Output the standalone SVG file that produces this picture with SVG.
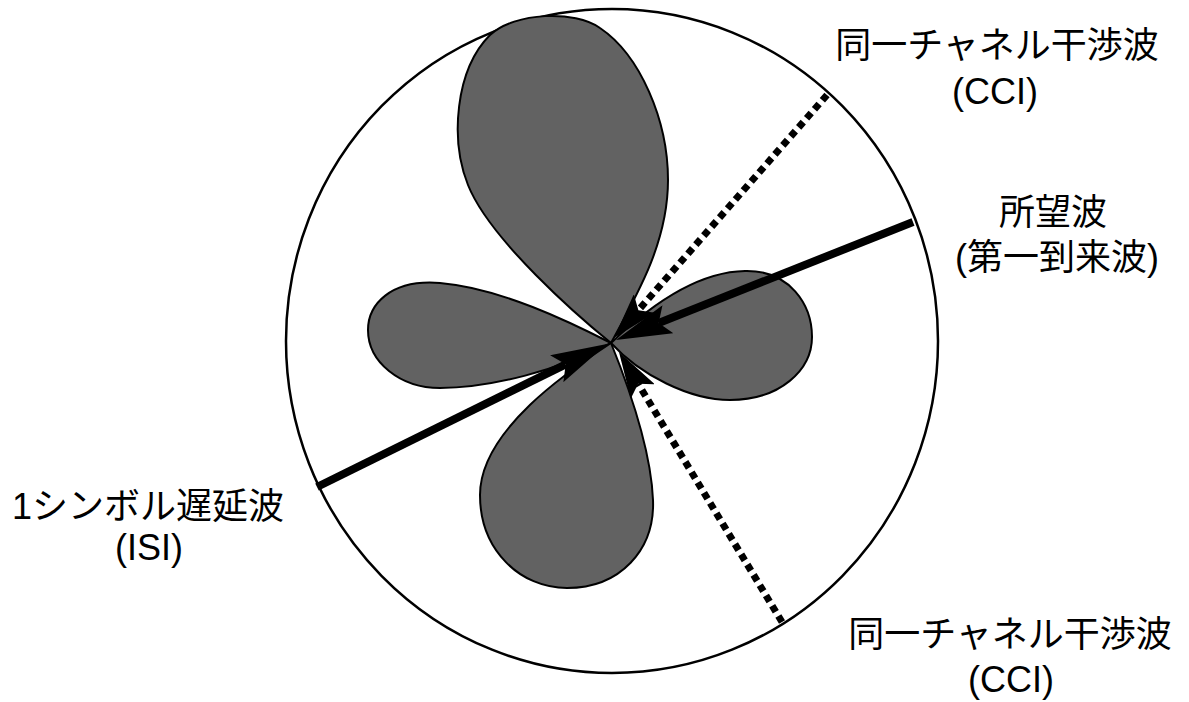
<svg xmlns="http://www.w3.org/2000/svg" width="1189" height="702" viewBox="0 0 1189 702">
<style>
.bg{fill:#ffffff}
.rim{fill:none;stroke:#000;stroke-width:2.5}
.lobe{fill:#626262;stroke:#000;stroke-width:2}
.solid{fill:none;stroke:#000;stroke-width:8}
.dot{fill:none;stroke:#000;stroke-width:7;stroke-dasharray:7 5}
.lbl{font-family:"Liberation Sans","Noto Sans CJK JP",sans-serif;font-size:36px;fill:#000;text-anchor:middle}
</style>
<defs>
<marker id="headL" viewBox="0 0 56 30" refX="10" refY="15" markerWidth="56" markerHeight="30" markerUnits="userSpaceOnUse" orient="auto">
<path d="M0,0 L56,15 L0,30 L10,15 Z" fill="#000" stroke="none"/>
</marker>
<marker id="headS" viewBox="0 0 46 28" refX="9" refY="14" markerWidth="46" markerHeight="28" markerUnits="userSpaceOnUse" orient="auto">
<path d="M0,0 L46,14 L0,28 L9,14 Z" fill="#000" stroke="none"/>
</marker>
</defs>
<rect class="bg" x="0" y="0" width="1189" height="702"/>
<g id="boundary">
<ellipse class="rim" cx="612" cy="341" rx="326" ry="332"/>
</g>
<g id="lobe-top">
<path class="lobe" d="M611,343 C580,318 490,240 468,185 C450,140 455,70 490,35 C515,12 575,10 600,28 C640,55 668,120 668,180 C668,240 640,290 611,343 Z"/>
</g>
<g id="lobe-left">
<path class="lobe" d="M611,343 C570,322 500,288 440,283 C390,279 368,305 368,330 C368,362 400,388 440,388 C490,388 560,370 611,343 Z"/>
</g>
<g id="lobe-right">
<path class="lobe" d="M611,343 C640,315 690,272 745,271 C790,270 812,305 812,337 C812,370 780,400 730,400 C690,400 640,375 611,343 Z"/>
</g>
<g id="lobe-bottom">
<path class="lobe" d="M611,343 C570,370 480,430 480,495 C480,550 520,588 567,588 C620,588 655,550 653,500 C651,450 630,390 611,343 Z"/>
</g>
<g id="connectors">
<line id="desired" class="solid" x1="913" y1="222" x2="658.7" y2="323" marker-end="url(#headL)"/>
<line id="isi" class="solid" x1="317" y1="487" x2="565.7" y2="364.3" marker-end="url(#headL)"/>
<line id="cci-upper" class="dot" x1="827" y1="95" x2="638.4" y2="310.2" marker-end="url(#headS)"/>
<line id="cci-lower" class="dot" x1="782" y1="622" x2="638.1" y2="383.7" marker-end="url(#headS)"/>
</g>
<g id="label-cci-upper">
<text class="lbl" x="997" y="58">同一チャネル干渉波</text>
<text class="lbl" x="995" y="104">(CCI)</text>
</g>
<g id="label-desired">
<text class="lbl" x="1053" y="225">所望波</text>
<text class="lbl" x="1057" y="270">(第一到来波)</text>
</g>
<g id="label-isi">
<text class="lbl" x="148" y="519">1シンボル遅延波</text>
<text class="lbl" x="149" y="560">(ISI)</text>
</g>
<g id="label-cci-lower">
<text class="lbl" x="1010" y="647">同一チャネル干渉波</text>
<text class="lbl" x="1011" y="692">(CCI)</text>
</g>
</svg>
